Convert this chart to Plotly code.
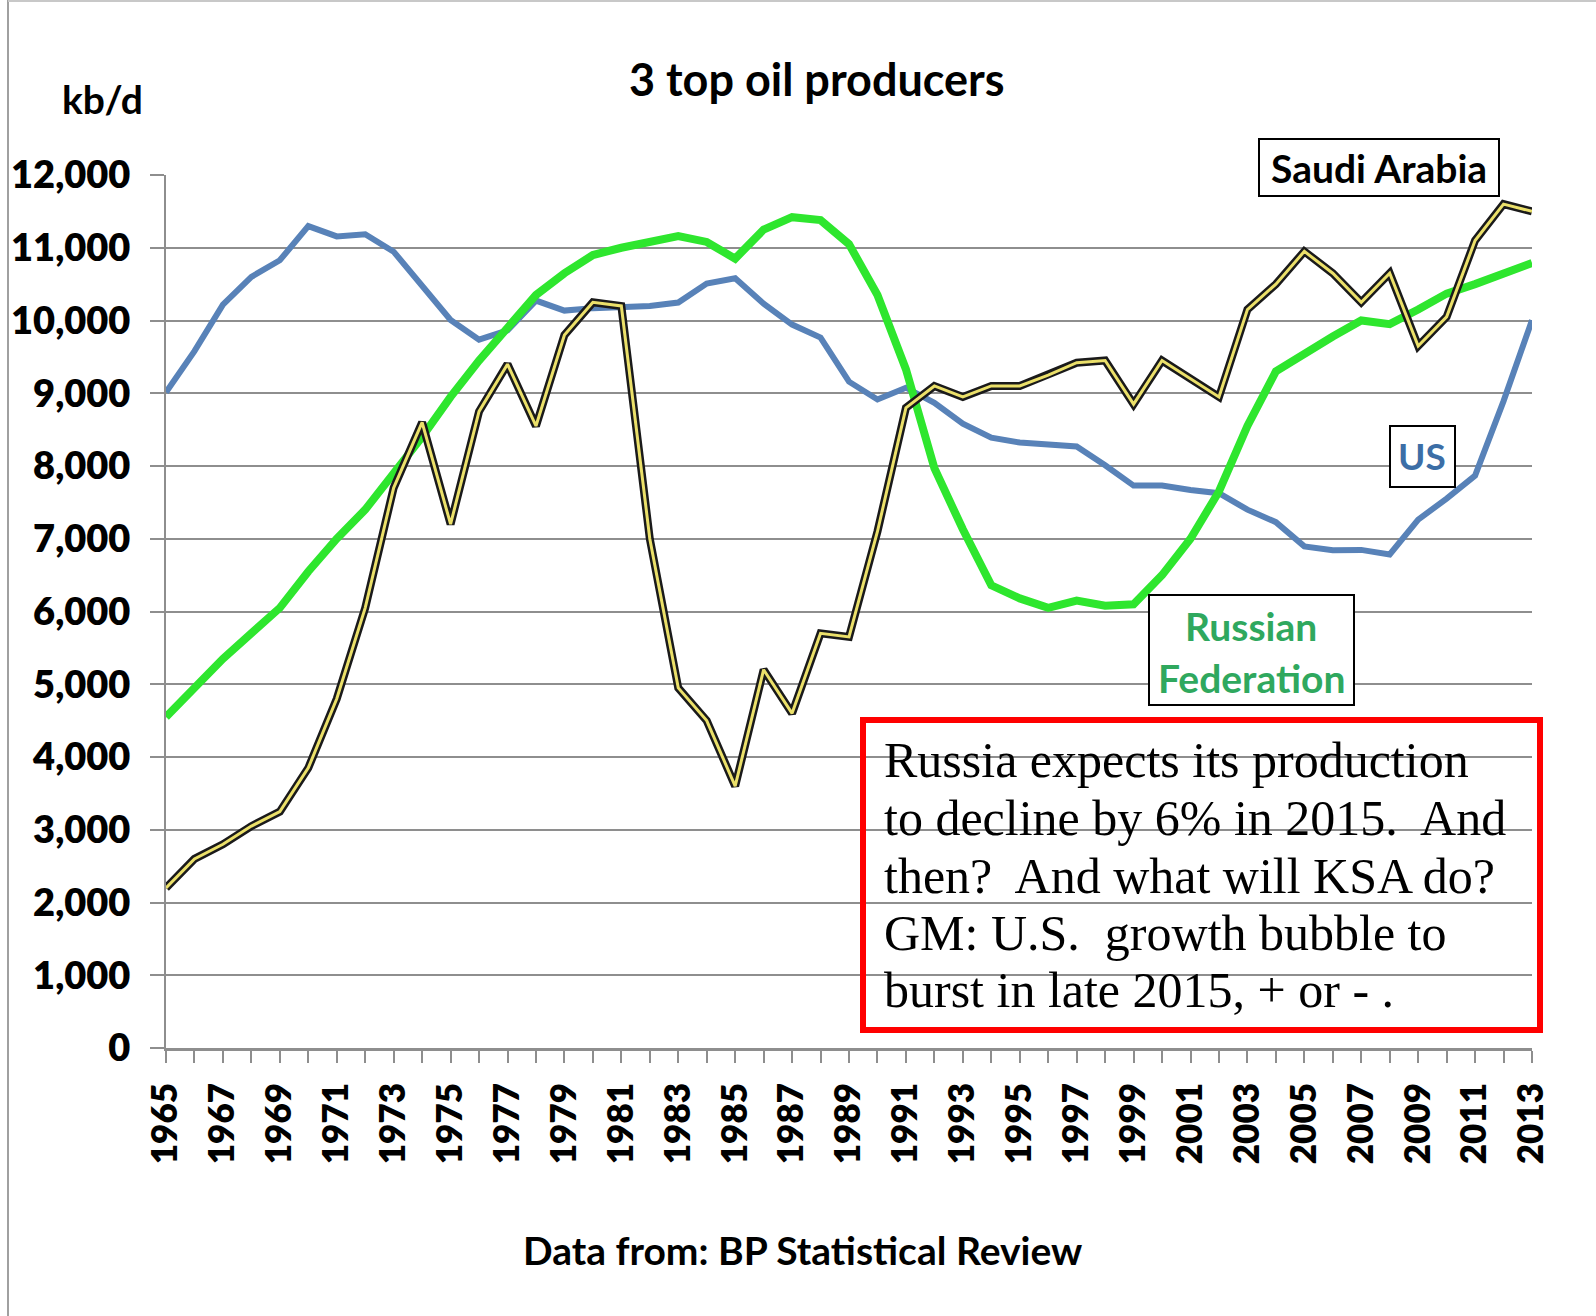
import plotly.graph_objects as go

years = list(range(1965, 2014))

us = [9014, 9579, 10219, 10600, 10828, 11297, 11156, 11185, 10946, 10461,
      10008, 9736, 9863, 10274, 10136, 10170, 10181, 10199, 10247, 10509,
      10580, 10231, 9944, 9765, 9159, 8914, 9076, 8868, 8583, 8389,
      8322, 8295, 8269, 8011, 7731, 7733, 7669, 7626, 7400, 7228,
      6895, 6841, 6847, 6784, 7263, 7552, 7868, 8892, 10003]

russia = [4550, 4950, 5350, 5700, 6050, 6550, 7000, 7400, 7900, 8400,
          8950, 9450, 9900, 10350, 10650, 10900, 11000, 11080, 11160, 11080,
          10850, 11250, 11420, 11380, 11050, 10350, 9330, 7970, 7130, 6360,
          6180, 6050, 6150, 6080, 6100, 6500, 7000, 7650, 8550, 9300,
          9550, 9780, 10000, 9950, 10150, 10370, 10500, 10650, 10790]

saudi = [2200, 2600, 2800, 3050, 3250, 3850, 4800, 6050, 7700, 8600,
         7200, 8750, 9400, 8550, 9800, 10250, 10200, 7000, 4950, 4500,
         3600, 5200, 4600, 5700, 5650, 7100, 8800, 9100, 8950, 9100,
         9100, 9250, 9420, 9450, 8850, 9450, 9200, 8950, 10150, 10500,
         10950, 10650, 10250, 10650, 9650, 10050, 11100, 11600, 11500]

title = "3 top oil producers"
unit_label = "kb/d"
source_label = "Data from: BP Statistical Review"
note_lines = [
    "Russia expects its production",
    "to decline by 6% in 2015.\u00a0 And",
    "then?\u00a0 And what will KSA do?",
    "GM: U.S.\u00a0 growth bubble to",
    "burst in late 2015, + or - .",
]

W_FIG, H_FIG = 1596, 1316
L, R, T, B = 166, 1532, 175, 1048
PW, PH = R - L, B - T


def px(x):
    return (x - L) / PW


def py(y):
    return (B - y) / PH


FONT = "Lato"
GRID = "#8e8e8e"

fig = go.Figure()
fig.add_trace(go.Scatter(x=years, y=us, mode="lines",
                         line=dict(color="#5882b8", width=6), name="US"))
fig.add_trace(go.Scatter(x=years, y=russia, mode="lines",
                         line=dict(color="#2ee62e", width=8), name="Russian Federation"))
fig.add_trace(go.Scatter(x=years, y=saudi, mode="lines",
                         line=dict(color="#1a1a1a", width=8), name="Saudi Arabia"))
fig.add_trace(go.Scatter(x=years, y=saudi, mode="lines",
                         line=dict(color="#ebe06a", width=3), name="Saudi Arabia",
                         showlegend=False))

fig.update_layout(
    width=W_FIG, height=H_FIG,
    margin=dict(l=L, r=W_FIG - R, t=T, b=H_FIG - B),
    paper_bgcolor="white", plot_bgcolor="white",
    showlegend=False,
    font=dict(family=FONT, color="black"),
)

fig.update_xaxes(
    range=[1965, 2013],
    tickmode="array", tickvals=years[::2], ticktext=[str(y) for y in years[::2]],
    tickangle=-90,
    tickfont=dict(family=FONT, size=35, weight=800, color="black"),
    ticks="outside", ticklen=12, tickwidth=2, tickcolor=GRID,
    minor=dict(tickmode="array", tickvals=years, ticks="outside", ticklen=12,
               tickwidth=2, tickcolor=GRID, showgrid=False),
    showgrid=False, zeroline=False,
    showline=True, linecolor=GRID, linewidth=3,
    ticklabelstandoff=6, automargin=False,
)

fig.update_yaxes(
    range=[0, 12000], dtick=1000, tickformat=",d",
    tickfont=dict(family=FONT, size=38, weight=800, color="black"),
    ticks="outside", ticklen=14, tickwidth=2, tickcolor=GRID,
    showgrid=True, gridcolor=GRID, gridwidth=2,
    zeroline=False, showline=True, linecolor=GRID, linewidth=2,
    ticklabelstandoff=12, automargin=False,
)

ann = []
ann.append(dict(text=title, x=px(817), y=py(79), xref="paper", yref="paper",
                showarrow=False, xanchor="center", yanchor="middle",
                font=dict(family=FONT, size=45, weight=700, color="black")))
ann.append(dict(text=unit_label, x=px(102), y=py(99), xref="paper", yref="paper",
                showarrow=False, xanchor="center", yanchor="middle",
                font=dict(family=FONT, size=39, weight=700, color="black")))
ann.append(dict(text=source_label, x=px(802), y=py(1250), xref="paper", yref="paper",
                showarrow=False, xanchor="center", yanchor="middle",
                font=dict(family=FONT, size=39, weight=700, color="black")))

# series label boxes
ann.append(dict(text="Saudi Arabia", x=px(1379), y=py(168), xref="paper", yref="paper",
                showarrow=False, xanchor="center", yanchor="middle",
                font=dict(family=FONT, size=39, weight=700, color="black")))
ann.append(dict(text="US", x=px(1422), y=py(456), xref="paper", yref="paper",
                showarrow=False, xanchor="center", yanchor="middle",
                font=dict(family=FONT, size=37, weight=700, color="#3c6ea6")))
ann.append(dict(text="Russian", x=px(1251), y=py(626), xref="paper", yref="paper",
                showarrow=False, xanchor="center", yanchor="middle",
                font=dict(family=FONT, size=39, weight=700, color="#2fa85e")))
ann.append(dict(text="Federation", x=px(1251), y=py(678), xref="paper", yref="paper",
                showarrow=False, xanchor="center", yanchor="middle",
                font=dict(family=FONT, size=39, weight=700, color="#2fa85e")))

line_y = [760, 818, 876, 933, 990]
for t, yy in zip(note_lines, line_y):
    ann.append(dict(text=t, x=px(882), y=py(yy), xref="paper", yref="paper",
                    showarrow=False, xanchor="left", yanchor="middle",
                    font=dict(family="Liberation Serif", size=50, color="black")))

fig.update_layout(annotations=ann)

shapes = []
# outer frame lines
shapes.append(dict(type="line", xref="paper", yref="paper",
                   x0=px(8), x1=px(8), y0=py(0), y1=py(1316),
                   line=dict(color="#a0a0a0", width=2)))
shapes.append(dict(type="line", xref="paper", yref="paper",
                   x0=px(8), x1=px(1596), y0=py(1), y1=py(1),
                   line=dict(color="#c8c8c8", width=2)))
# label boxes
shapes.append(dict(type="rect", xref="paper", yref="paper",
                   x0=px(1259), x1=px(1499), y0=py(196), y1=py(139),
                   line=dict(color="black", width=2), fillcolor="white", layer="above"))
shapes.append(dict(type="rect", xref="paper", yref="paper",
                   x0=px(1390), x1=px(1455), y0=py(487), y1=py(426),
                   line=dict(color="black", width=2), fillcolor="white", layer="above"))
shapes.append(dict(type="rect", xref="paper", yref="paper",
                   x0=px(1149), x1=px(1354), y0=py(705), y1=py(595),
                   line=dict(color="black", width=2), fillcolor="white", layer="above"))
# red note box
shapes.append(dict(type="rect", xref="paper", yref="paper",
                   x0=px(863), x1=px(1540), y0=py(1030), y1=py(720),
                   line=dict(color="#ff0000", width=6), fillcolor="rgba(0,0,0,0)",
                   layer="above"))
fig.update_layout(shapes=shapes)

fig.write_html("out.html", config={"displayModeBar": False},
               post_script="document.body.style.margin='0';document.body.style.padding='0';")
